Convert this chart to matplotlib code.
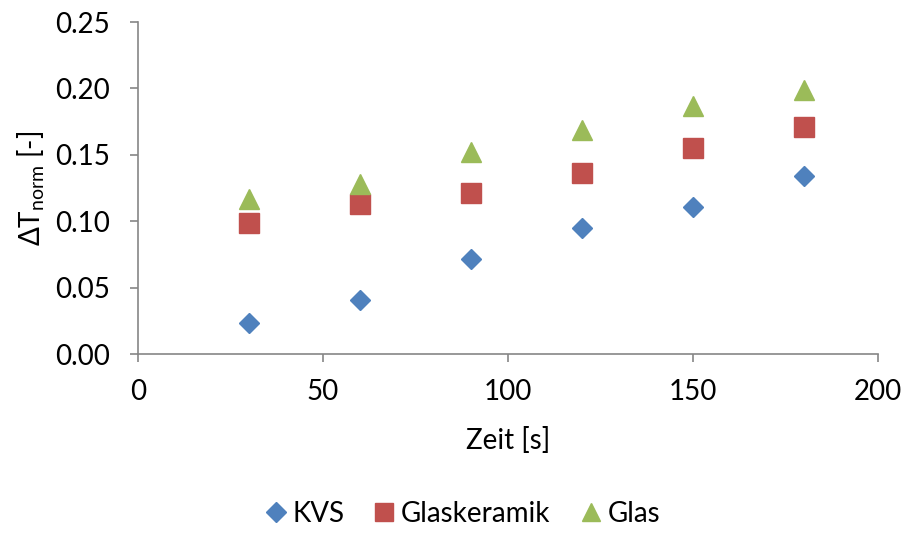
import matplotlib.pyplot as plt

plt.rcParams['font.family'] = ['Lato', 'DejaVu Sans']
plt.rcParams['mathtext.default'] = 'regular'

zeit = [30, 60, 90, 120, 150, 180]
kvs = [0.0233, 0.0405, 0.0713, 0.0946, 0.111, 0.134]
glaskeramik = [0.099, 0.1126, 0.1216, 0.1366, 0.155, 0.171]
glas = [0.117, 0.128, 0.152, 0.169, 0.187, 0.199]

fig = plt.figure(figsize=(9.06, 5.33), dpi=100)
ax = fig.add_axes([0.1523, 0.3358, 0.8167, 0.6229])

ax.plot(zeit, kvs, 'D', color='#4F81BD', markersize=10.5, label='KVS', linestyle='none')
ax.plot(zeit, glaskeramik, 's', color='#C0504D', markersize=14, label='Glaskeramik', linestyle='none')
ax.plot(zeit, glas, '^', color='#9BBB59', markersize=14, label='Glas', linestyle='none')

ax.set_xlim(0, 200)
ax.set_ylim(0, 0.25)
ax.set_xticks([0, 50, 100, 150, 200])
ax.set_yticks([0, 0.05, 0.10, 0.15, 0.20, 0.25])
ax.set_yticklabels(['0.00', '0.05', '0.10', '0.15', '0.20', '0.25'])

for s in ['top', 'right']:
    ax.spines[s].set_visible(False)
for s in ['left', 'bottom']:
    ax.spines[s].set_color('#868686')
    ax.spines[s].set_linewidth(1.2)
ax.tick_params(colors='#868686', labelcolor='black', labelsize=20, length=6, width=1.2)
ax.tick_params(axis='x', pad=12)
ax.tick_params(axis='y', pad=14)

ax.set_xlabel('Zeit [s]', fontsize=20, labelpad=16)
ax.set_ylabel('ΔT$_{norm}$ [-]', fontsize=20, labelpad=6)

fig.legend(loc='lower center', bbox_to_anchor=(0.508, -0.035), ncol=3, frameon=False,
           fontsize=20, handletextpad=0.05, columnspacing=0.9, handlelength=1.1,
           markerscale=0.95)

fig.savefig('out.png', dpi=100)
